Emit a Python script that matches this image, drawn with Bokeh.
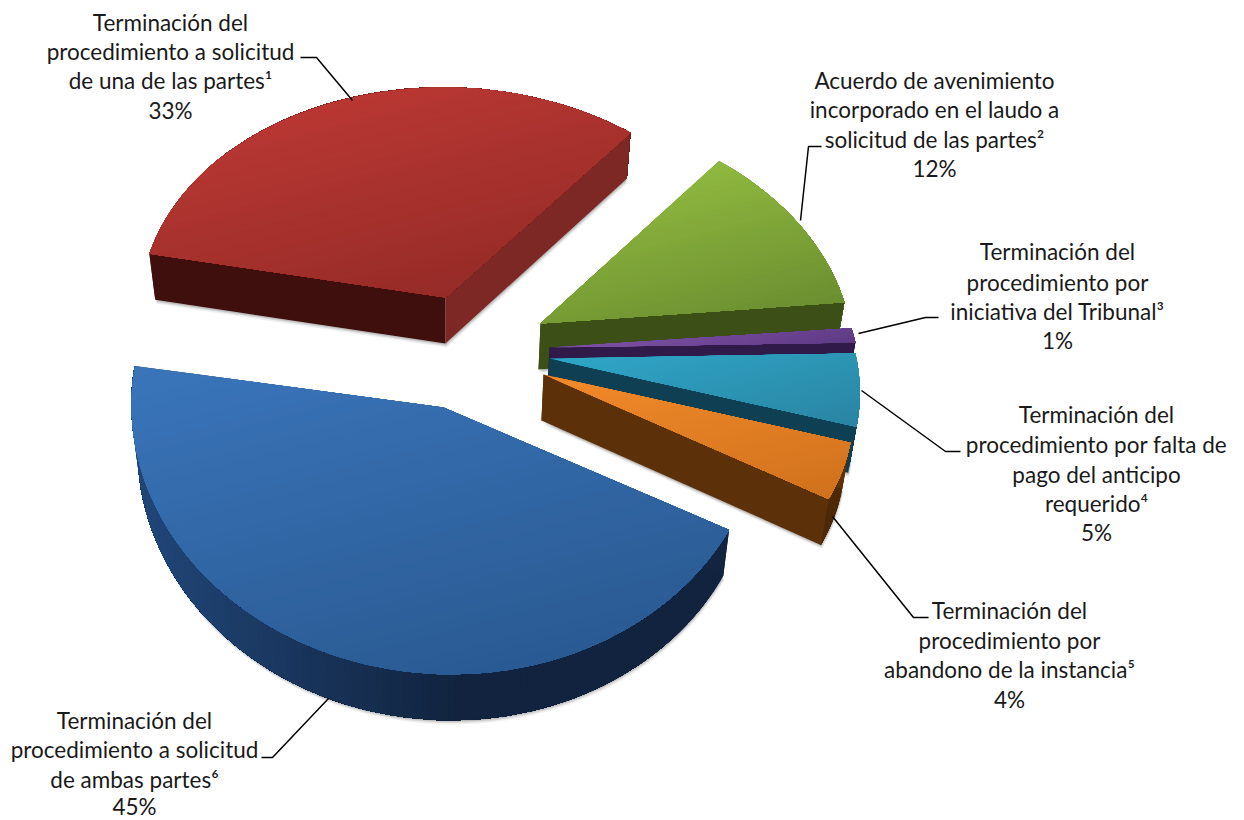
import numpy as np
from bokeh.plotting import figure
from bokeh.models import Range1d
from bokeh.core.properties import value
from bokeh.embed import file_html
from bokeh.resources import INLINE

# ---- data ----
categories = [
    "Terminación del procedimiento a solicitud de una de las partes",
    "Acuerdo de avenimiento incorporado en el laudo a solicitud de las partes",
    "Terminación del procedimiento por iniciativa del Tribunal",
    "Terminación del procedimiento por falta de pago del anticipo requerido",
    "Terminación del procedimiento por abandono de la instancia",
    "Terminación del procedimiento a solicitud de ambas partes",
]
percent = [33, 12, 1, 5, 4, 45]
label_lines = [
    ["Terminación del", "procedimiento a solicitud", "de una de las partes¹", "33%"],
    ["Acuerdo de avenimiento", "incorporado en el laudo a", "solicitud de las partes²", "12%"],
    ["Terminación del", "procedimiento por", "iniciativa del Tribunal³", "1%"],
    ["Terminación del", "procedimiento por falta de", "pago del anticipo", "requerido⁴", "5%"],
    ["Terminación del", "procedimiento por", "abandono de la instancia⁵", "4%"],
    ["Terminación del", "procedimiento a solicitud", "de ambas partes⁶", "45%"],
]

# ---- layout (pixel frame of the page) ----
APEX = [(445, 297), (540, 323), (549, 347), (549, 358), (543, 374), (443, 407)]
# projective map of the pie plane to the page, per slice: A, B, C, D, G, H
PROJ = [
    (-305.0, 54.0, -45.0, -222.0, 0.03, 0.073),
    (-302.0, 48.0, -50.0, -222.0, 0.03, 0.073),
    (-300.0, 48.0, -52.0, -222.0, 0.03, 0.073),
    (-300.0, 48.0, -52.0, -222.0, 0.03, 0.073),
    (-300.0, 48.0, -52.0, -222.0, 0.03, 0.073),
    (-312.0, 45.0, -42.0, -263.0, 0.01, 0.0),
]
TOP_LIGHT = ["#b83733", "#8fb93f", "#7f52a6", "#2fa6c8", "#f28a2b", "#3a75bb"]
TOP_DARK = ["#962b27", "#6b8e30", "#5e3a84", "#2a84a2", "#d0721c", "#2a5a92"]
WALL_START = ["#3e0f0c", "#3c4f17", "#2b1a42", "#0f3f52", "#5c3008", "#12243f"]
WALL_END = ["#7d2824", "#3c4f17", "#2f1a4a", "#0f3f52", "#5c3008", "#12243f"]
ARC_A = ["#6a1f1c", "#55701f", "#2f1a4a", "#0f3f52", "#5c3008", "#21477a"]
ARC_B = ["#6a1f1c", "#55701f", "#2f1a4a", "#0f3f52", "#4e2906", "#11233e"]
LABEL_X = [170, 934, 1057, 1096, 1009, 134]
LABEL_Y = [[22, 51, 80, 110], [80, 109, 139, 168], [251, 282, 311, 340],
           [414, 444, 474, 503, 532], [610, 640, 669, 699], [720, 749, 779, 806]]
LEADERS = [
    [(300, 57), (316, 57), (352, 100)],
    [(821, 146), (808, 146), (800, 220)],
    [(938, 317), (925, 317), (858, 333)],
    [(861, 390), (945, 451), (960, 451)],
    [(832, 516), (913, 617), (928, 617)],
    [(328, 698), (272, 757), (261, 757)],
]
FONT = "Lato"
FONT_SIZE = "22.5px"
DEPTH = 46


def project(theta, params):
    a, b, c, d, g, h = params
    u, v = np.cos(theta), np.sin(theta)
    w = 1 + g * u + h * v
    return (a * u + b * v) / w, (c * u + d * v) / w


def lower(x, y):
    y = np.asarray(y, float)
    x = np.asarray(x, float)
    return x - 0.02 * (x - 440), y + DEPTH


def hex2rgb(h):
    return np.array([int(h[i:i + 2], 16) for i in (1, 3, 5)], float)


def mix(c1, c2, t):
    t = float(np.clip(t, 0, 1))
    r = hex2rgb(c1) * (1 - t) + hex2rgb(c2) * t
    return "#%02x%02x%02x" % tuple(int(round(k)) for k in r)


def clip_halfplane(px, py, nx, ny, lim):
    """keep the part of a polygon with nx*x + ny*y >= lim"""
    out = []
    n = len(px)
    for i in range(n):
        x0, y0, x1, y1 = px[i], py[i], px[(i + 1) % n], py[(i + 1) % n]
        d0 = lim - (nx * x0 + ny * y0)
        d1 = lim - (nx * x1 + ny * y1)
        if d0 <= 0:
            out.append((x0, y0))
        if d0 * d1 < 0:
            t = d0 / (d0 - d1)
            out.append((x0 + t * (x1 - x0), y0 + t * (y1 - y0)))
    if not out:
        return [], []
    return [o[0] for o in out], [o[1] for o in out]


p = figure(width=1244, height=820, x_range=Range1d(0, 1244), y_range=Range1d(820, 0),
           output_backend="svg", toolbar_location=None, min_border=0, outline_line_color=None)
p.axis.visible = False
p.grid.visible = False

fractions = np.array(percent, float) / sum(percent)
edges = np.concatenate([[0], np.cumsum(fractions)]) * 2 * np.pi
GDIR = (0.25, 0.968)


def quad(xs, ys, col):
    p.patch(xs, ys, fill_color=col, line_color=None)


for i in range(len(percent)):
    ax, ay = APEX[i]
    n = max(4, int(percent[i] * 3))
    th = np.linspace(edges[i], edges[i + 1], n)
    dx, dy = project(th, PROJ[i])
    X, Y = ax + dx, ay + dy
    bx, by = lower(X, Y)
    apx, apy = lower(ax, ay)

    # soft shadow below the lower outline
    sx = np.concatenate([[apx], bx])
    sy = np.concatenate([[apy], by])
    for off, al in ((4, 0.10), (2.5, 0.16), (1.2, 0.22)):
        p.patch(sx + off * 0.3, sy + off, fill_color="#555555", fill_alpha=al, line_color=None)

    # outer curved wall (quads overlap to the arc's end, so that no seams show)
    for k in range(n - 1):
        t = (0.5 * (X[k] + X[k + 1]) - 130) / 330
        xs = np.concatenate([X[k:], bx[k:][::-1]])
        ys = np.concatenate([Y[k:], by[k:][::-1]])
        quad(xs, ys, mix(ARC_A[i], ARC_B[i], t))
    # radial walls
    quad([ax, X[0], bx[0], apx], [ay, Y[0], by[0], apy], WALL_START[i])
    quad([ax, X[-1], bx[-1], apx], [ay, Y[-1], by[-1], apy], WALL_END[i])

    # top face: shrinking overlapped bands along the light direction
    px = [ax] + list(X)
    py = [ay] + list(Y)
    proj_v = [GDIR[0] * a + GDIR[1] * b for a, b in zip(px, py)]
    lo, hi = min(proj_v), max(proj_v)
    nb = 36
    cuts = np.linspace(lo, hi, nb + 1)
    for b in range(nb):
        qx, qy = clip_halfplane(px, py, GDIR[0], GDIR[1], cuts[b])
        if len(qx) >= 3:
            quad(qx, qy, mix(TOP_LIGHT[i], TOP_DARK[i], (b + 0.5) / nb))

# leaders and labels
for pts in LEADERS:
    p.line([q[0] for q in pts], [q[1] for q in pts], line_color="#000000", line_width=1.5)

for i, lines in enumerate(label_lines):
    p.text(x=[LABEL_X[i]] * len(lines), y=LABEL_Y[i], text=lines, text_align="center",
           text_baseline="middle", text_color="#1a1a1a",
           text_font=value(FONT), text_font_size=value(FONT_SIZE))

open("out.html", "w").write(file_html(p, INLINE))
